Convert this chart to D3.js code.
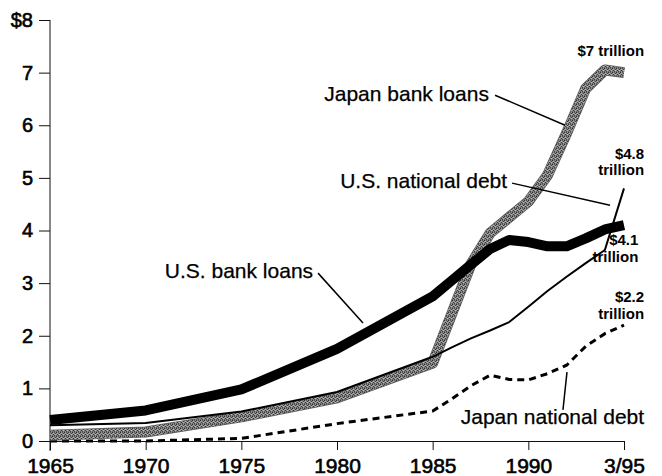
<!DOCTYPE html>
<html>
<head>
<meta charset="utf-8">
<script src="https://cdn.jsdelivr.net/npm/d3@7"></script>
<style>
  html, body { margin: 0; padding: 0; background: #fff; }
  svg { display: block; font-family: "Liberation Sans", Arial, Helvetica, sans-serif; }
</style>
</head>
<body>
<svg id="chart" width="662" height="476"></svg>
<script>
// Debt and lending, trillions of dollars
const years             = [1965, 1970, 1975, 1980, 1985, 1986, 1987, 1988, 1989, 1990, 1991, 1992, 1993, 1994, 1995];
const japanBankLoans    = [0.11, 0.17, 0.46, 0.82, 1.48, 2.42, 3.36, 3.95, 4.25, 4.55, 5.05, 5.85, 6.70, 7.05, 7.0];
const usBankLoans       = [0.40, 0.58, 0.98, 1.75, 2.75, 3.05, 3.35, 3.65, 3.82, 3.78, 3.70, 3.70, 3.85, 4.02, 4.1];
const usNationalDebt    = [0.30, 0.34, 0.56, 0.93, 1.60, 1.78, 1.95, 2.10, 2.26, 2.55, 2.85, 3.12, 3.38, 3.63, 4.8];
const japanNationalDebt = [0.00, 0.00, 0.05, 0.33, 0.57, 0.80, 1.05, 1.25, 1.17, 1.16, 1.28, 1.44, 1.80, 2.04, 2.2];

const xTickYears  = [1965, 1970, 1975, 1980, 1985, 1990, 1995];
const xTickLabels = ["1965", "1970", "1975", "1980", "1985", "1990", "3/95"];
const yTickValues = [0, 1, 2, 3, 4, 5, 6, 7, 8];
const yTickLabels = ["0", "1", "2", "3", "4", "5", "6", "7", "$8"];

// Series names with leader lines, in [year, value] units
const seriesLabels = [
  { text: "Japan bank loans",    at: [1987.94, 6.46], leader: [[1988.26, 6.57], [1991.92, 6.00]] },
  { text: "U.S. national debt",  at: [1988.89, 4.81], leader: [[1989.15, 4.90], [1994.27, 4.48]] },
  { text: "U.S. bank loans",     at: [1978.75, 3.10], leader: [[1979.01, 3.19], [1981.36, 2.24]] },
  { text: "Japan national debt", at: [1996.05, 0.32], leader: [[1991.81, 0.59], [1992.02, 1.31]] }
];
// End-of-period totals
const totalLabels = [
  { lines: ["$7 trillion"],          at: [1996.05, 7.32] },
  { lines: ["$4.8", "trillion"],     at: [1996.05, 5.36] },
  { lines: ["$4.1", "trillion"],     at: [1995.75, 3.72] },
  { lines: ["$2.2", "trillion"],     at: [1996.05, 2.64] }
];

const svg = d3.select("#chart");

const x = d3.scaleLinear().domain([1965, 1995]).range([50, 624]);
const y = d3.scaleLinear().domain([0, 8]).range([441, 20]);

// halftone texture for the grey band
const defs = svg.append("defs");
const pat = defs.append("pattern").attr("id", "halftone")
  .attr("patternUnits", "userSpaceOnUse").attr("width", 4).attr("height", 4);
pat.append("rect").attr("width", 4).attr("height", 4).attr("fill", "#8a8a8a");
[[0, 0, "#2e2e2e"], [2, 0, "#5a5a5a"], [3, 1, "#3a3a3a"], [1, 2, "#333"],
 [2, 3, "#444"], [0, 3, "#666"], [1, 1, "#b0b0b0"], [3, 2, "#b8b8b8"]].forEach(([px, py, c]) =>
  pat.append("rect").attr("x", px).attr("y", py).attr("width", 1).attr("height", 1).attr("fill", c));

// axes
const yAxis = d3.axisLeft(y)
  .tickValues(yTickValues)
  .tickFormat((d, i) => yTickLabels[i])
  .tickSize(11).tickPadding(6).tickSizeOuter(0);
const gy = svg.append("g").attr("transform", "translate(50,0)").call(yAxis);
gy.select(".domain").remove();
gy.selectAll("text").attr("font-size", 20).attr("fill", "#000")
  .attr("stroke", "#000").attr("stroke-width", 0.6)
  .attr("font-family", "'Liberation Sans', Arial, sans-serif");
gy.selectAll("line").attr("stroke", "#111");

const xAxis = d3.axisBottom(x)
  .tickValues(xTickYears)
  .tickFormat((d, i) => xTickLabels[i])
  .tickSize(9).tickPadding(8).tickSizeOuter(0);
const gx = svg.append("g").attr("transform", "translate(0,441)").call(xAxis);
gx.select(".domain").attr("stroke", "#111");
gx.selectAll("text").attr("font-size", 21).attr("fill", "#000")
  .attr("stroke", "#000").attr("stroke-width", 0.6)
  .attr("font-family", "'Liberation Sans', Arial, sans-serif");
gx.selectAll("line").attr("stroke", "#111");

// vertical axis line, running slightly below the baseline
svg.append("line")
  .attr("x1", x(1965)).attr("x2", x(1965))
  .attr("y1", y(8)).attr("y2", y(0) + 10)
  .attr("stroke", "#111").attr("stroke-width", 1);

const line = vals => d3.line()
  .x((d, i) => x(years[i]))
  .y(d => y(d))(vals);

// Japan national debt: dashed
svg.append("path").attr("d", line(japanNationalDebt))
  .attr("fill", "none").attr("stroke", "#000").attr("stroke-width", 3)
  .attr("stroke-dasharray", "7,5");

// Japan bank loans: grey halftone band
svg.append("path").attr("d", line(japanBankLoans))
  .attr("fill", "none").attr("stroke", "#5e5e5e").attr("stroke-width", 11)
  .attr("stroke-linejoin", "round");
svg.append("path").attr("d", line(japanBankLoans))
  .attr("fill", "none").attr("stroke", "url(#halftone)").attr("stroke-width", 9.5)
  .attr("stroke-linejoin", "round");

// U.S. national debt: thin black
svg.append("path").attr("d", line(usNationalDebt))
  .attr("fill", "none").attr("stroke", "#000").attr("stroke-width", 2)
  .attr("stroke-linejoin", "round");

// U.S. bank loans: heavy black
svg.append("path").attr("d", line(usBankLoans))
  .attr("fill", "none").attr("stroke", "#000").attr("stroke-width", 10)
  .attr("stroke-linejoin", "round");

// series names and leaders
seriesLabels.forEach(s => {
  svg.append("text")
    .attr("x", x(s.at[0])).attr("y", y(s.at[1]))
    .attr("text-anchor", "end")
    .attr("font-size", 21).attr("fill", "#000")
    .attr("stroke", "#000").attr("stroke-width", 0.25)
    .text(s.text);
  svg.append("line")
    .attr("x1", x(s.leader[0][0])).attr("y1", y(s.leader[0][1]))
    .attr("x2", x(s.leader[1][0])).attr("y2", y(s.leader[1][1]))
    .attr("stroke", "#000").attr("stroke-width", 1.5);
});

// totals
totalLabels.forEach(t => {
  const txt = svg.append("text")
    .attr("x", x(t.at[0])).attr("y", y(t.at[1]))
    .attr("text-anchor", "end")
    .attr("font-size", 15).attr("font-weight", "bold").attr("fill", "#000");
  t.lines.forEach((l, i) => {
    txt.append("tspan").attr("x", x(t.at[0])).attr("dy", i === 0 ? 0 : 16.5).text(l);
  });
});
</script>
</body>
</html>
